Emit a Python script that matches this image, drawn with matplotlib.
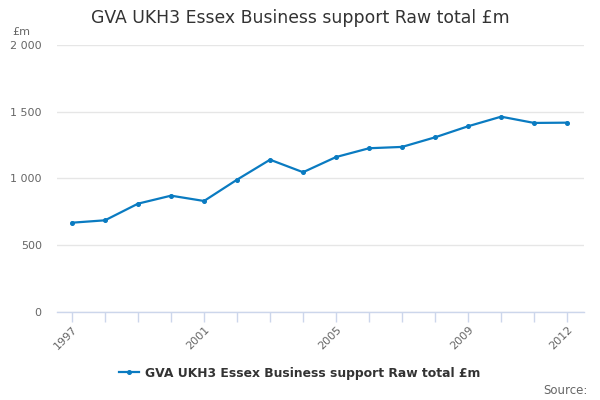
import matplotlib
matplotlib.use("Agg")
import matplotlib.pyplot as plt
from matplotlib.lines import Line2D

years = [1997, 1998, 1999, 2000, 2001, 2002, 2003, 2004, 2005, 2006, 2007, 2008, 2009, 2010, 2011, 2012]
values = [668, 686, 811, 871, 831, 991, 1141, 1047, 1161, 1227, 1237, 1309, 1392, 1464, 1417, 1419]
x_tick_labels = ["1997", "2001", "2005", "2009", "2012"]
y_ticks = [0, 500, 1000, 1500, 2000]
y_tick_labels = ["0", "500", "1 000", "1 500", "2 000"]
title = "GVA UKH3 Essex Business support Raw total £m"
series_name = "GVA UKH3 Essex Business support Raw total £m"

plt.rcParams['font.family'] = ['DejaVu Sans']
color = '#0a7bc1'

fig = plt.figure(figsize=(6, 4), dpi=100)
ax = fig.add_axes([0.095, 0.2208, 0.878, 0.666])

ax.plot(years, values, color=color, lw=1.6, marker='o', ms=2.6, zorder=3)

ax.set_xlim(1996.545, 2012.506)
ax.set_ylim(0, 2000)
ax.set_yticks(y_ticks)
ax.set_yticklabels(y_tick_labels, color='#666666', fontsize=8)
ax.yaxis.grid(True, color='#e6e6e6', lw=1)
ax.set_axisbelow(True)
ax.tick_params(axis='y', length=0, pad=11)

ax.set_xticks(years, minor=False)
lbls = [str(y) if str(y) in x_tick_labels else "" for y in years]
ax.set_xticklabels(lbls, rotation=45, ha='right', rotation_mode='anchor',
                   color='#666666', fontsize=8)
ax.tick_params(axis='x', length=7, color='#ccd6eb', width=1, pad=2)

for s in ['top', 'right', 'left']:
    ax.spines[s].set_visible(False)
ax.spines['bottom'].set_color('#ccd6eb')
ax.spines['bottom'].set_linewidth(1)

fig.text(0.5, 0.955, title, ha='center', va='center', fontsize=12.4, color='#333333')
fig.text(0.02, 0.92, "£m", ha='left', va='center', fontsize=8, color='#666666')

handle = Line2D([], [], color=color, lw=1.6, marker='o', ms=2.6)
leg = fig.legend([handle], [series_name], loc='center', bbox_to_anchor=(0.5, 0.067),
                 frameon=False, handlelength=1.6, handletextpad=0.5,
                 prop={'weight': 'bold', 'size': 8.9})
for t in leg.get_texts():
    t.set_color('#333333')

fig.text(0.98, 0.025, "Source:", ha='right', va='center', fontsize=8.5, color='#666666')

fig.savefig("out.png", dpi=100)
